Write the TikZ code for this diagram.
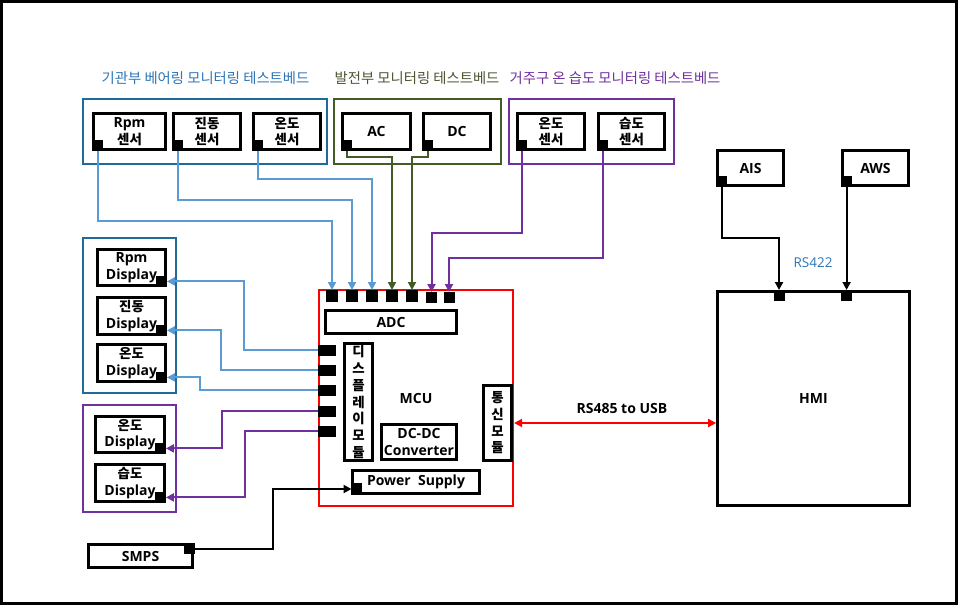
\documentclass[tikz,border=0pt]{standalone}
\usepackage{fontspec}
\setmainfont{Open Sans}
\newfontfamily\kr[Scale=0.88]{Noto Sans CJK KR}
\newfontfamily\krb[Scale=0.96]{Noto Sans CJK KR}
\usetikzlibrary{arrows.meta}
\definecolor{gblue}{HTML}{1F6B99}
\definecolor{lblue}{HTML}{5B9BD5}
\definecolor{tblue}{HTML}{2E75B6}
\definecolor{ggreen}{HTML}{435C26}
\definecolor{tgreen}{HTML}{4A5530}
\definecolor{gpurp}{HTML}{7030A0}
\definecolor{mred}{HTML}{FF0000}
\tikzset{
  bx/.style={draw, line width=2.8pt, inner sep=0pt, align=center,
    font=\bfseries\fontsize{14}{16.5}\selectfont},
  vbx/.style={bx, font=\krb\bfseries\fontsize{14}{16.7}\selectfont},
  grp/.style={draw, line width=2.4pt, inner sep=0pt},
  port/.style={fill=black, inner sep=0pt, outer sep=0pt, minimum width=11pt, minimum height=11pt},
  lport/.style={port, minimum width=18pt},
  con/.style={line width=2pt, -{Triangle[length=8pt,width=8pt]}},
  glabel/.style={font=\kr\fontsize{16.3}{16.3}\selectfont},
}
\begin{document}
\begin{tikzpicture}[x=1pt,y=-1pt]
\useasboundingbox (0,0) rectangle (960,607);
\draw[line width=3pt] (1.5,1.5) rectangle (956.5,603.5);

% group labels
\node[glabel, text=tblue] (lb1) at (205.5,78) {기관부 베어링 모니터링 테스트베드};
\node[glabel, text=tgreen] (lb2) at (417,78) {발전부 모니터링 테스트베드};
\node[glabel, text=gpurp] (lb3) at (615,78) {거주구 온 습도 모니터링 테스트베드};

% group boxes
\node[grp, draw=gblue, minimum width=244pt, minimum height=65pt] (gB) at (205,131.5) {};
\node[grp, draw=ggreen, minimum width=167pt, minimum height=65pt] (gG) at (417.5,131.5) {};
\node[grp, draw=gpurp, minimum width=165pt, minimum height=65pt] (gP) at (591.5,131.5) {};
\node[grp, draw=gblue, minimum width=93pt, minimum height=155pt] (gDB) at (129.5,315.5) {};
\node[grp, draw=gpurp, minimum width=93pt, minimum height=107pt] (gDP) at (129.5,458.5) {};

% sensors
\node[bx, minimum width=72pt, minimum height=36pt] (sRpm) at (129.5,131.5) {Rpm\\{\krb 센서}};
\node[bx, minimum width=67pt, minimum height=36pt] (sVib) at (207,131.5) {{\krb 진동}\\{\krb 센서}};
\node[bx, minimum width=67pt, minimum height=36pt] (sTmp) at (287,131.5) {{\krb 온도}\\{\krb 센서}};
\node[bx, minimum width=68pt, minimum height=36pt] (sAC) at (376.5,131.5) {AC};
\node[bx, minimum width=67pt, minimum height=36pt] (sDC) at (457,131.5) {DC};
\node[bx, minimum width=67pt, minimum height=36pt] (sTmp2) at (551,131.5) {{\krb 온도}\\{\krb 센서}};
\node[bx, minimum width=66pt, minimum height=36pt] (sHum) at (631.5,131.5) {{\krb 습도}\\{\krb 센서}};

\foreach \s in {Rpm,Vib,Tmp,AC,DC,Tmp2,Hum}
  \node[port, anchor=south west] (p\s) at (s\s.south west) {};

% displays
\node[bx, minimum width=68pt, minimum height=36pt] (dRpm) at (131.5,267.5) {Rpm\\Display};
\node[bx, minimum width=68pt, minimum height=37pt] (dVib) at (131.5,316) {{\krb 진동}\\Display};
\node[bx, minimum width=68pt, minimum height=37pt] (dTmp) at (131.5,363) {{\krb 온도}\\Display};
\node[bx, minimum width=69pt, minimum height=36pt] (dTmp2) at (130,434.5) {{\krb 온도}\\Display};
\node[bx, minimum width=69pt, minimum height=37pt] (dHum) at (130,483) {{\krb 습도}\\Display};
\foreach \s in {Rpm,Vib,Tmp,Tmp2,Hum}
  \node[port, anchor=south east] (pd\s) at (d\s.south east) {};

% MCU
\node[draw=mred, line width=2.2pt, inner sep=0pt, minimum width=194pt, minimum height=216pt] (MCU) at (416,398) {};
\node[font=\bfseries\fontsize{14}{15}\selectfont] (mcuL) at (416,398) {MCU};
\node[bx, minimum width=131pt, minimum height=23pt] (ADC) at (391,322) {ADC};
\node[vbx, minimum width=28pt, minimum height=117pt] (dm) at (358.5,402) {디\\스\\플\\레\\이\\모\\듈};
\node[bx, minimum width=75pt, minimum height=35pt] (dcdc) at (419,442) {DC-DC\\Converter};
\node[vbx, minimum width=28pt, minimum height=75pt] (comm) at (497.5,423) {통\\신\\모\\듈};
\node[bx, minimum width=127pt, minimum height=23pt] (PS) at (416,482) {Power~~Supply};
\node[port, minimum width=10pt, minimum height=12pt] (pPS) at (356.5,489) {};

\node[port, minimum width=12pt, minimum height=12pt] (mt1) at (332,296) {};
\node[port, minimum width=12pt, minimum height=12pt] (mt2) at (352,296) {};
\node[port, minimum width=12pt, minimum height=12pt] (mt3) at (372,296) {};
\node[port, minimum width=12pt, minimum height=12pt] (mt4) at (392,296) {};
\node[port, minimum width=12pt, minimum height=12pt] (mt5) at (412,296) {};
\node[port] (mt6) at (431.5,297.5) {};
\node[port] (mt7) at (449,297.5) {};

\node[lport] (ml1) at (327,350) {};
\node[lport] (ml2) at (327,370) {};
\node[lport] (ml3) at (327,390) {};
\node[lport] (ml4) at (327,411) {};
\node[lport] (ml5) at (327,431) {};

% SMPS
\node[bx, minimum width=104pt, minimum height=23pt] (SMPS) at (140.5,556) {SMPS};
\node[port] (pSM) at (189,548.5) {};

% AIS / AWS / HMI
\node[bx, minimum width=66pt, minimum height=35pt] (AIS) at (750.5,168) {AIS};
\node[bx, minimum width=66pt, minimum height=35pt] (AWS) at (875.5,168) {AWS};
\node[port, anchor=south west] (pAIS) at (AIS.south west) {};
\node[port, anchor=south west] (pAWS) at (AWS.south west) {};
\node[bx, minimum width=192pt, minimum height=214pt] (HMI) at (813.5,398.5) {HMI};
\node[port] (hp1) at (779,295.5) {};
\node[port] (hp2) at (pAWS.center |- 0,295.5) {};
\node[font=\fontsize{13.5}{13.5}\selectfont, text=tblue] (rs422) at (813,263) {RS422};

% sensor connectors
\draw[con, lblue] (pRpm.south) |- (mt1.north |- 0,221) -- (mt1.north);
\draw[con, lblue] (pVib.south) |- (mt2.north |- 0,200) -- (mt2.north);
\draw[con, lblue] (pTmp.south) |- (mt3.north |- 0,179) -- (mt3.north);
\draw[con, ggreen] (pAC.south) |- (mt4.north |- 0,157) -- (mt4.north);
\draw[con, ggreen] (pDC.south) |- (mt5.north |- 0,157) -- (mt5.north);
\draw[con, gpurp] (pTmp2.south) |- (mt6.north |- 0,233) -- (mt6.north);
\draw[con, gpurp] (pHum.south) |- (mt7.north |- 0,258) -- (mt7.north);

% display connectors
\draw[con, lblue] (ml1.west) -- (ml1.west -| 244,0) |- (pdRpm.east);
\draw[con, lblue] (ml2.west) -- (ml2.west -| 221,0) |- (pdVib.east);
\draw[con, lblue] (ml3.west) -- (ml3.west -| 200,0) |- (pdTmp.east);
\draw[con, gpurp] (ml4.west) -- (ml4.west -| 222,0) |- (pdTmp2.east);
\draw[con, gpurp] (ml5.west) -- (ml5.west -| 245,0) |- (pdHum.east);

% power
\draw[con, black] (pSM.east) -- (pSM.east -| 273,0) |- (pPS.west);

% AIS / AWS
\draw[con, black] (pAIS.south) |- (hp1.north |- 0,238) -- (hp1.north);
\draw[con, black] (pAWS.south) -- (hp2.north);

% RS485
\draw[line width=2pt, mred, {Triangle[length=8pt,width=8pt]}-{Triangle[length=8pt,width=8pt]}]
  (comm.east -| MCU.east) -- (comm.east -| HMI.west);
\node[font=\bfseries\fontsize{14}{15}\selectfont] (rs485) at (622,408) {RS485 to USB};
\end{tikzpicture}
\end{document}
